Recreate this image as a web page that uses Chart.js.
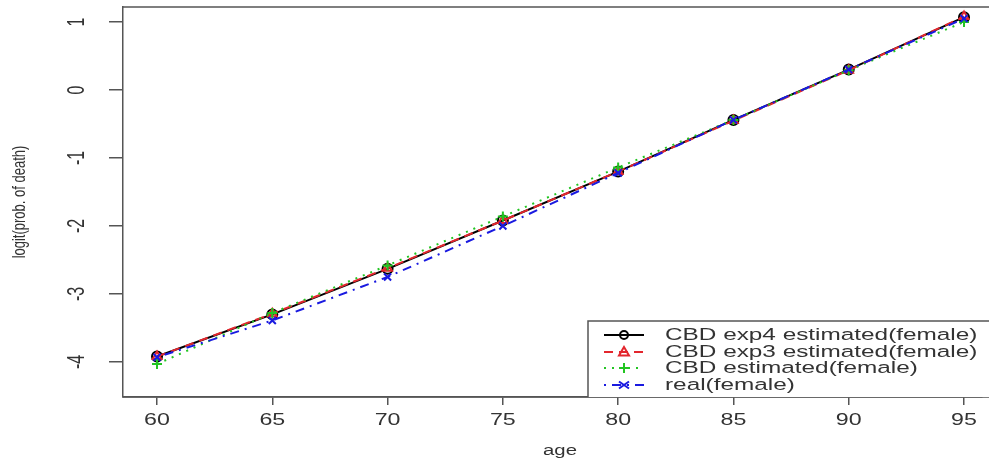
<!DOCTYPE html>
<html>
<head>
<meta charset="utf-8">
<title>logit(prob. of death) by age</title>
<script src="https://cdn.jsdelivr.net/npm/chart.js"></script>
<style>
	html, body { margin: 0; padding: 0; background: #fff; }
	.chart-container { position: relative; width: 989px; height: 464px; }
</style>
</head>
<body>
<div class="chart-container">
	<canvas id="logitChart"></canvas>
</div>
<script>
	// values
	const ages = [60, 65, 70, 75, 80, 85, 90, 95];
	const exp4Female = [-3.92, -3.30, -2.63, -1.92, -1.20, -0.44, 0.30, 1.07];
	const exp3Female = [-3.92, -3.29, -2.62, -1.92, -1.20, -0.45, 0.29, 1.08];
	const cbdFemale = [-4.03, -3.28, -2.58, -1.86, -1.14, -0.44, 0.29, 1.00];
	const realFemale = [-3.93, -3.39, -2.75, -2.00, -1.22, -0.44, 0.30, 1.05];

	const xTicks = [60, 65, 70, 75, 80, 85, 90, 95];
	const yTicks = [-4, -3, -2, -1, 0, 1];
	const legendLabels = [
		"CBD exp4 estimated(female)",
		"CBD exp3 estimated(female)",
		"CBD estimated(female)",
		"real(female)",
	];

	const colors = ["#000000", "#e3262d", "#22c522", "#1a1ae0"];
	const dashes = [[], [9, 6], [2, 6], [2, 6, 9, 6]];
	const shapes = ["circle", "triangle", "cross", "crossRot"];
	const axisColor = "#555555";
	const textColor = "#333333";
	const stretch = 1.45; // the reference text looks pulled sideways

	const FONT = "'Liberation Sans', Arial, sans-serif";

	function wideText(ctx, text, x, y, size, rotate, align) {
		ctx.save();
		ctx.translate(x, y);
		ctx.scale(stretch, 1);
		if (rotate) ctx.rotate(-Math.PI / 2);
		ctx.font = size + "px " + FONT;
		ctx.fillStyle = textColor;
		ctx.textAlign = align || "center";
		ctx.textBaseline = "middle";
		ctx.fillText(text, 0, 0);
		ctx.restore();
	}

	function marker(ctx, shape, x, y, r, color) {
		ctx.save();
		ctx.strokeStyle = color;
		ctx.lineWidth = 2;
		ctx.setLineDash([]);
		ctx.beginPath();
		if (shape === "circle") {
			ctx.arc(x, y, r * 0.8, 0, Math.PI * 2);
		} else if (shape === "triangle") {
			ctx.moveTo(x, y - r);
			ctx.lineTo(x + r, y + r * 0.7);
			ctx.lineTo(x - r, y + r * 0.7);
			ctx.closePath();
		} else if (shape === "cross") {
			ctx.moveTo(x - r, y); ctx.lineTo(x + r, y);
			ctx.moveTo(x, y - r); ctx.lineTo(x, y + r);
		} else {
			ctx.moveTo(x - r, y - r * 0.7); ctx.lineTo(x + r, y + r * 0.7);
			ctx.moveTo(x - r, y + r * 0.7); ctx.lineTo(x + r, y - r * 0.7);
		}
		ctx.stroke();
		ctx.restore();
	}

	// tick labels, axis titles, top frame line and the legend box
	const rDecor = {
		id: "rDecor",
		afterDraw(chart) {
			const ctx = chart.ctx;
			const area = chart.chartArea;
			const xs = chart.scales.x;
			const ys = chart.scales.y;
			const rightEdge = chart.width;

			ctx.save();
			ctx.strokeStyle = axisColor;
			ctx.lineWidth = 1.5;
			ctx.beginPath();
			ctx.moveTo(area.left, area.top);
			ctx.lineTo(rightEdge, area.top);
			ctx.moveTo(area.left, area.bottom);
			ctx.lineTo(rightEdge, area.bottom);
			ctx.stroke();
			ctx.restore();

			xTicks.forEach((v) => wideText(ctx, String(v), xs.getPixelForValue(v), 421, 16));
			yTicks.forEach((v) => wideText(ctx, String(v), 78, ys.getPixelForValue(v), 16, true));

			wideText(ctx, "age", 560, 451, 14);
			wideText(ctx, "logit(prob. of death)", 20, 202, 13, true);

			// legend
			const boxLeft = 588, boxTop = 321, boxBottom = area.bottom;
			ctx.save();
			ctx.fillStyle = "#fff";
			ctx.fillRect(boxLeft, boxTop, rightEdge - boxLeft, boxBottom - boxTop);
			ctx.strokeStyle = axisColor;
			ctx.lineWidth = 1.5;
			ctx.beginPath();
			ctx.moveTo(rightEdge, boxTop);
			ctx.lineTo(boxLeft, boxTop);
			ctx.lineTo(boxLeft, boxBottom);
			ctx.stroke();
			ctx.restore();

			const rows = [335, 352, 368, 385];
			legendLabels.forEach((label, i) => {
				const y = rows[i];
				ctx.save();
				ctx.strokeStyle = colors[i];
				ctx.lineWidth = 2;
				ctx.setLineDash(dashes[i]);
				ctx.beginPath();
				ctx.moveTo(604, y);
				ctx.lineTo(644, y);
				ctx.stroke();
				ctx.restore();
				marker(ctx, shapes[i], 624, y, 5, colors[i]);
				wideText(ctx, label, 665, y, 16.8, false, "left");
			});
		},
	};

	const series = [exp4Female, exp3Female, cbdFemale, realFemale];
	const datasets = series.map((vals, i) => ({
		label: legendLabels[i],
		data: ages.map((a, j) => ({ x: a, y: vals[j] })),
		borderColor: colors[i],
		backgroundColor: "transparent",
		borderWidth: 2,
		borderDash: dashes[i],
		pointStyle: shapes[i],
		pointRadius: 5,
		pointBorderWidth: 2,
		pointBorderColor: colors[i],
		pointBackgroundColor: "transparent",
		tension: 0,
		order: 4 - i,
	}));

	new Chart(document.getElementById("logitChart").getContext("2d"), {
		type: "line",
		data: { datasets },
		plugins: [rDecor],
		options: {
			responsive: true,
			maintainAspectRatio: false,
			animation: false,
			layout: { padding: { top: 7, right: 0, bottom: 0, left: 0 } },
			plugins: {
				legend: { display: false },
				tooltip: { enabled: false },
			},
			scales: {
				x: {
					type: "linear",
					// axis runs past the right edge of the picture, as in the reference
					min: 58.525,
					max: 95.78,
					afterBuildTicks: (s) => { s.ticks = xTicks.map((v) => ({ value: v })); },
					afterFit: (s) => { s.height = 67; },
					ticks: { display: false },
					grid: {
						drawOnChartArea: false,
						drawTicks: true,
						tickLength: 8,
						color: axisColor,
						lineWidth: 1.5,
					},
					border: { display: true, color: axisColor, width: 1.5 },
				},
				y: {
					type: "linear",
					min: -4.515,
					max: 1.22,
					afterBuildTicks: (s) => { s.ticks = yTicks.map((v) => ({ value: v })); },
					afterFit: (s) => { s.width = 123; },
					ticks: { display: false },
					grid: {
						drawOnChartArea: false,
						drawTicks: true,
						tickLength: 14,
						color: axisColor,
						lineWidth: 1.5,
					},
					border: { display: true, color: axisColor, width: 1.5 },
				},
			},
		},
	});
</script>
</body>
</html>
